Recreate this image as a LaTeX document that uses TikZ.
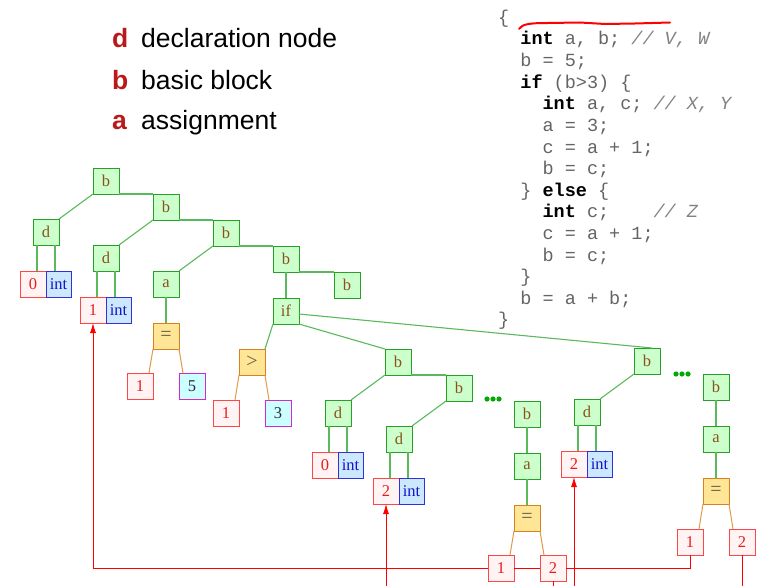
\documentclass[tikz,border=0pt]{standalone}
\usepackage{fontspec}
\setmainfont{Liberation Serif}
\setsansfont{Liberation Sans}
\setmonofont{Liberation Mono}
\usetikzlibrary{arrows.meta,positioning}

\definecolor{blkfill}{RGB}{204,255,204}
\definecolor{blkline}{RGB}{40,160,40}
\definecolor{blktext}{RGB}{140,80,30}
\definecolor{edgegreen}{RGB}{90,185,90}
\definecolor{numfill}{RGB}{255,243,243}
\definecolor{numline}{RGB}{255,70,70}
\definecolor{numtext}{RGB}{230,30,30}
\definecolor{typfill}{RGB}{204,232,255}
\definecolor{typline}{RGB}{50,50,220}
\definecolor{typtext}{RGB}{20,20,200}
\definecolor{oprfill}{RGB}{255,230,150}
\definecolor{oprline}{RGB}{215,130,30}
\definecolor{oprtext}{RGB}{100,90,60}
\definecolor{cstfill}{RGB}{204,255,255}
\definecolor{cstline}{RGB}{210,40,210}
\definecolor{csttext}{RGB}{40,40,60}
\definecolor{dotgreen}{RGB}{0,170,0}
\definecolor{keyred}{RGB}{185,25,25}
\definecolor{codegray}{RGB}{100,100,100}
\definecolor{cmtgray}{RGB}{130,130,130}

\newcommand{\kw}[1]{{\color{black}\bfseries #1}}
\newcommand{\cm}[1]{{\color{cmtgray}\itshape #1}}

\begin{document}
\begin{tikzpicture}[
        x = 1pt, y = -1pt,
        box/.style      = {draw, line width=1pt, minimum size=26pt, inner sep=0pt, outer sep=0pt,
                           font=\fontsize{16.5}{16.5}\selectfont},
        blk/.style      = {box, fill=blkfill, draw=blkline, text=blktext},
        num/.style      = {box, fill=numfill, draw=numline, text=numtext},
        typ/.style      = {box, fill=typfill, draw=typline, text=typtext, minimum width=25pt},
        opr/.style      = {box, fill=oprfill, draw=oprline, text=oprtext,
                           font=\fontsize{20}{20}\selectfont},
        cst/.style      = {box, fill=cstfill, draw=cstline, text=csttext},
        tedge/.style    = {draw=edgegreen, line width=1.1pt},
        oedge/.style    = {draw=oprline!80, line width=1pt},
        link/.style     = {draw=red, line width=0.9pt},
        linkarrow/.style= {link, -{Latex[length=10pt,width=6pt]}},
        key/.style      = {anchor=base west, inner sep=0pt, text=keyred,
                           font=\sffamily\bfseries\fontsize{26.5}{30}\selectfont},
        keytext/.style  = {anchor=base west, inner sep=0pt,
                           font=\sffamily\fontsize{26.5}{30}\selectfont},
        code/.style     = {anchor=base west, inner sep=0pt, text=codegray,
                           font=\ttfamily\fontsize{18.5}{21.6}\selectfont},
        %sloped
      ]
        \useasboundingbox (0,0) rectangle (758,586);
        \coordinate (bot) at (0,586);

        % legend
        \node[key]     (kd) at (112,48)  {d};
        \node[keytext] (td) at (141,48)  {declaration node};
        \node[key]     (kb) at (112,89)  {b};
        \node[keytext] (tb) at (141,89)  {basic block};
        \node[key]     (ka) at (112,129) {a};
        \node[keytext] (ta) at (141,129) {assignment};

        % source
        \node[code] (l1)  at (498,23.5)   {\{};
        \node[code] (l2)  at (520.2,45)   {\kw{int} a, b; \cm{// V, W}};
        \node[code] (l3)  at (520.2,66.6) {b = 5;};
        \node[code] (l4)  at (520.2,88.2) {\kw{if} (b>3) \{};
        \node[code] (l5)  at (542.4,109.8){\kw{int} a, c; \cm{// X, Y}};
        \node[code] (l6)  at (542.4,131.4){a = 3;};
        \node[code] (l7)  at (542.4,153)  {c = a + 1;};
        \node[code] (l8)  at (542.4,174.6){b = c;};
        \node[code] (l9)  at (520.2,196.2){\} \kw{else} \{};
        \node[code] (l10) at (542.4,217.8){\kw{int} c;\ \ \ \ \cm{// Z}};
        \node[code] (l11) at (542.4,239.4){c = a + 1;};
        \node[code] (l12) at (542.4,261)  {b = c;};
        \node[code] (l13) at (520.2,282.6){\}};
        \node[code] (l14) at (520.2,304.2){b = a + b;};
        \node[code] (l15) at (498,325.8)  {\}};
        \draw[red, line width=2pt, line cap=round]
            (519,29) .. controls (522,24) and (530,23) .. (548,23)
            -- (580,22.5) -- (605,24) -- (635,23.5) -- (670,22.5);

        % tree, outer block
        \node[blk] (b1) at (106,181) {b};
        \node[blk, below left=25pt and 34pt of b1.south west]  (d1) {d};
        \node[blk, below right=0pt and 34pt of b1.south east]  (b2) {b};
        \node[blk, below left=25pt and 34pt of b2.south west]  (d2) {d};
        \node[blk, below right=0pt and 34pt of b2.south east]  (b3) {b};
        \node[blk, below left=25pt and 34pt of b3.south west]  (a1) {a};
        \node[blk, below right=0pt and 34pt of b3.south east]  (b4) {b};
        \node[blk, below right=0pt and 35pt of b4.south east]  (b5) {b};
        \node[opr, below=26pt of a1]                           (eq1) {=};
        \node[num, below left=24pt and 0pt of eq1.south west]  (c1) {1};
        \node[cst, below right=24pt and 0pt of eq1.south east] (c5) {5};
        \node[blk, below=26pt of b4]                           (cond) {if};
        \node[opr, below left=25pt and 8pt of cond.south west] (gt) {>};
        \node[num, below left=25pt and 0pt of gt.south west]   (g1) {1};
        \node[cst, below right=25pt and 0pt of gt.south east]  (g3) {3};

        % then branch
        \node[blk, below right=25pt and 86pt of cond.south east] (bM) {b};
        \node[blk, below left=25pt and 34pt of bM.south west]  (dM) {d};
        \node[blk, below right=0pt and 35pt of bM.south east]  (bM2) {b};
        \node[blk, below left=25pt and 34pt of bM2.south west] (dM2) {d};
        \coordinate (dotsM) at (493,399);
        \node[blk, below right=0pt and 42pt of bM2.south east] (bM3) {b};
        \node[blk, below=26pt of bM3]                          (aM) {a};
        \node[opr, below=26pt of aM]                           (eqM) {=};
        \node[num, below left=24pt and 0pt of eqM.south west]  (m1) {1};
        \node[num, below right=24pt and 0pt of eqM.south east] (m2) {2};

        % else branch
        \node[blk] (bR) at (647,361) {b};
        \node[blk, below left=25pt and 34pt of bR.south west]  (dR) {d};
        \coordinate (dotsR) at (682,374);
        \node[blk, below right=0pt and 43pt of bR.south east]  (bR2) {b};
        \node[blk, below=26pt of bR2]                          (aR) {a};
        \node[opr, below=26pt of aR]                           (eqR) {=};
        \node[num, below left=25pt and 0pt of eqR.south west]  (r1) {1};
        \node[num, below right=25pt and 0pt of eqR.south east] (r2) {2};

        % declarations
        \node[num, below left=26pt and 0pt of d1.south]  (v0) {0};
        \node[typ, right=0pt of v0]                      (t0) {int};
        \node[num, below left=26pt and 0pt of d2.south]  (v1) {1};
        \node[typ, right=0pt of v1]                      (t1) {int};
        \node[num, below left=26pt and 0pt of dM.south]  (v2) {0};
        \node[typ, right=0pt of v2]                      (t2) {int};
        \node[num, below left=26pt and 0pt of dM2.south] (v3) {2};
        \node[typ, right=0pt of v3]                      (t3) {int};
        \node[num, below left=26pt and 0pt of dR.south]  (v4) {2};
        \node[typ, right=0pt of v4]                      (t4) {int};

        % edges
        \draw[tedge] (b1.south west) -- (d1.north east);
        \draw[tedge] (b1.south east) -- (b2.north west);
        \draw[tedge] (b2.south west) -- (d2.north east);
        \draw[tedge] (b2.south east) -- (b3.north west);
        \draw[tedge] (b3.south west) -- (a1.north east);
        \draw[tedge] (b3.south east) -- (b4.north west);
        \draw[tedge] (b4.south east) -- (b5.north west);
        \draw[tedge] (a1) -- (eq1);
        \draw[tedge] (b4) -- (cond);
        \draw[tedge] (cond.south west) -- (gt.north east);
        \draw[tedge] (cond.south east) -- (bM.north west);
        \draw[tedge] ([yshift=-3pt]cond.east) -- ([xshift=5pt]bR.north);
        \draw[tedge] (bM.south west) -- (dM.north east);
        \draw[tedge] (bM.south east) -- (bM2.north west);
        \draw[tedge] (bM2.south west) -- (dM2.north east);
        \draw[tedge] (bM3) -- (aM);
        \draw[tedge] (aM) -- (eqM);
        \draw[tedge] (bR.south west) -- (dR.north east);
        \draw[tedge] (bR2) -- (aR);
        \draw[tedge] (aR) -- (eqR);
        \foreach \d/\v in {d1/v0, d2/v1, dM/v2, dM2/v3, dR/v4} {
            \draw[tedge] ([xshift=-9pt]\d.south) -- ([xshift=-9pt]\d.south |- \v.north);
            \draw[tedge] ([xshift=9pt]\d.south) -- ([xshift=9pt]\d.south |- \v.north);
        }
        \foreach \o/\l/\r in {eq1/c1/c5, gt/g1/g3, eqM/m1/m2, eqR/r1/r2} {
            \draw[oedge] (\o.south west) -- ([xshift=-4pt]\l.north east);
            \draw[oedge] (\o.south east) -- ([xshift=4pt]\r.north west);
        }
        \foreach \dx in {-6,0,6} {
            \fill[dotgreen] ([xshift=\dx pt]dotsM) circle[radius=2.6pt];
            \fill[dotgreen] ([xshift=\dx pt]dotsR) circle[radius=2.6pt];
        }

        % uses
        \draw[linkarrow] (m1.west) -| (v1.south);
        \draw[link] (m1.east) -- (m2.west);
        \draw[link] (m2.east) -| (r1.south);
        \draw[link] (m2.south) -- (m2.south |- bot);
        \draw[linkarrow] (v3.south |- bot) -- (v3.south);
        \draw[linkarrow] (v4.south |- bot) -- (v4.south);
        \draw[link] (r2.south) -- (r2.south |- bot);
    \end{tikzpicture}
\end{document}
